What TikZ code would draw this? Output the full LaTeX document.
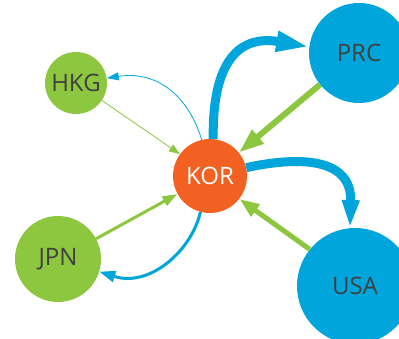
\documentclass[tikz,border=0pt]{standalone}
\usepackage{fontspec}
\setmainfont{Open Sans}
\usepackage{xcolor}
\usetikzlibrary{arrows.meta}
\definecolor{flowblue}{HTML}{00A6DB}
\definecolor{flowgreen}{HTML}{8DC63F}
\definecolor{flowred}{HTML}{F26122}
\definecolor{labelgray}{HTML}{404040}

\begin{document}
\begin{tikzpicture}[
x=1pt, y=-1pt,
country/.style={
circle,
inner sep=0pt,
text=labelgray,
font=\fontsize{24}{24}\selectfont
},
export/.style={draw=flowblue},
import/.style={draw=flowgreen}
]

\clip (0,0) rectangle (399,339);

\node[country, fill=flowred, text=white, minimum size=74pt] (kor) at (210,176) {KOR};

\node[country, fill=flowgreen, minimum size=62pt] (hkg) at (76,83) {HKG};

\node[country, fill=flowblue, minimum size=100pt] (prc) at (359,53) {PRC};

\node[country, fill=flowgreen, minimum size=86pt] (jpn) at (58,259) {JPN};

\node[country, fill=flowblue, minimum size=116pt] (usa) at (355,286) {USA};

\draw[export, line width=9pt, -{Triangle[length=33pt, width=19pt]}]
(kor.85) .. controls (212,60) and (240,35) .. (prc.173);

\draw[import, line width=6pt, -{Triangle[length=25pt, width=17pt]}]
(prc.219) -- (kor.39);

\draw[export, line width=9pt, -{Triangle[length=28pt, width=16pt]}]
(kor.13) .. controls (305,155) and (352,160) .. (usa.95);

\draw[import, line width=5pt, -{Triangle[length=20pt, width=14pt]}]
(usa.141) -- (kor.-38);

\draw[export, line width=3pt, -{Triangle[length=16pt, width=11pt]}]
(kor.255) .. controls (192,250) and (150,288) .. (jpn.-17);

\draw[import, line width=3pt, -{Triangle[length=15pt, width=10pt]}]
(jpn.28) -- (kor.209);

\draw[export, line width=0.8pt, -{Triangle[length=12pt, width=8pt]}]
(kor.103) .. controls (190,100) and (160,70) .. (hkg.9);

\draw[import, line width=0.8pt, -{Triangle[length=11pt, width=8pt]}]
(hkg.-34) -- (kor.144);

\end{tikzpicture}
\end{document}
